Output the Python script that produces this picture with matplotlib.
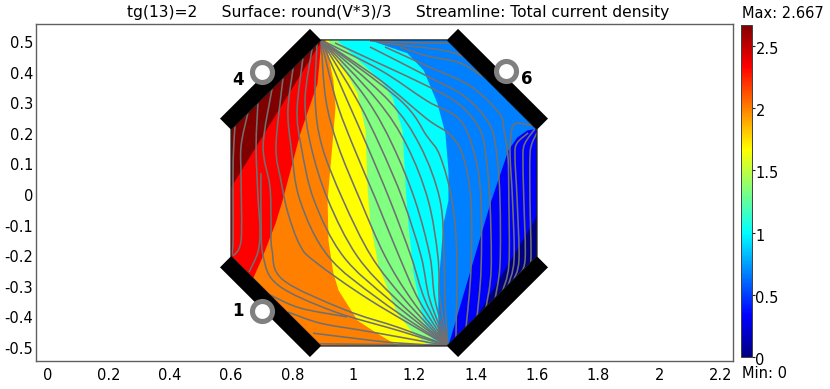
import numpy as np
import matplotlib
matplotlib.use("Agg")
import matplotlib.pyplot as plt
from matplotlib.colors import LinearSegmentedColormap, Normalize
from matplotlib.cm import ScalarMappable
from matplotlib.patches import Polygon, PathPatch
from matplotlib.path import Path
from matplotlib.transforms import ScaledTranslation

plt.rcParams['axes.unicode_minus'] = False
plt.rcParams['font.family'] = 'DejaVu Sans'

TITLE = "tg(13)=2     Surface: round(V*3)/3     Streamline: Total current density"
X_TICKS = [0, 0.2, 0.4, 0.6, 0.8, 1, 1.2, 1.4, 1.6, 1.8, 2, 2.2]
Y_TICKS = [-0.5, -0.4, -0.3, -0.2, -0.1, 0, 0.1, 0.2, 0.3, 0.4, 0.5]
CBAR_TICKS = [0, 0.5, 1, 1.5, 2, 2.5]
V_MAX = 2.667
V_MIN = 0
BAND_COLORS = ['#000080', '#0000ff', '#0080ff', '#00ffff', '#80ff80',
               '#ffff00', '#ff8000', '#ff0000', '#800000']

OCTAGON = [(0.894, 0.5), (1.306, 0.5), (1.6, 0.207), (1.6, -0.207),
           (1.306, -0.5), (0.894, -0.5), (0.6, -0.207), (0.6, 0.207)]
E4 = [(0.894, 0.5), (0.6, 0.207), (0.564, 0.243), (0.858, 0.536)]
E6 = [(1.306, 0.5), (1.6, 0.207), (1.636, 0.243), (1.342, 0.536)]
E1 = [(0.6, -0.207), (0.894, -0.5), (0.858, -0.536), (0.564, -0.243)]
E3 = [(1.306, -0.5), (1.6, -0.207), (1.636, -0.243), (1.342, -0.536)]

RING_X = [0.7, 1.5, 0.7]
RING_Y = [0.395, 0.4, -0.385]
LABELS = [('4', 0.623, 0.369), ('6', 1.567, 0.373), ('1', 0.623, -0.385)]

RED_B = [(0.894, 0.5), (0.891, 0.493), (0.607, 0.033), (0.55, -0.06), (0.55, -0.5)]
ORANGE_B = [(0.894, 0.5), (0.881, 0.359), (0.825, 0.196), (0.793, 0.075), (0.767, -0.023),
            (0.744, -0.098), (0.701, -0.209), (0.672, -0.275), (0.55, -0.40), (0.55, -0.5)]
YELLOW_B = [(0.907, 0.5), (0.933, 0.369), (0.94, 0.281), (0.93, 0.163), (0.914, -0.023),
            (0.917, -0.154), (0.933, -0.261), (0.95, -0.317), (1.012, -0.415), (1.077, -0.458),
            (1.142, -0.497)]
GREEN_B = [(0.917, 0.5), (1.012, 0.327), (1.038, 0.206), (1.045, 0.01), (1.054, -0.098),
           (1.08, -0.235), (1.142, -0.392), (1.195, -0.458), (1.244, -0.497)]
CYAN_B = [(0.946, 0.5), (1.087, 0.369), (1.126, 0.314), (1.159, 0.206), (1.172, -0.023),
          (1.178, -0.098), (1.195, -0.261), (1.227, -0.415), (1.26, -0.48), (1.283, -0.497)]
LIGHT_B = [(1.054, 0.5), (1.175, 0.458), (1.228, 0.402), (1.273, 0.294), (1.299, 0.196),
           (1.309, 0.075), (1.309, -0.023), (1.293, -0.098), (1.276, -0.307), (1.276, -0.458),
           (1.299, -0.497)]
BLUE_B = [(1.6, 0.212), (1.567, 0.206), (1.534, 0.183), (1.505, 0.141), (1.446, -0.033),
          (1.309, -0.497)]
NAVY_B = [(1.6, -0.072), (1.414, -0.382), (1.38, -0.44)]
BOUNDARIES = [RED_B, ORANGE_B, YELLOW_B, GREEN_B, CYAN_B, LIGHT_B, BLUE_B, NAVY_B]
BOUNDARY_COLORS = ['#ff0000', '#ff8000', '#ffff00', '#80ff80', '#00ffff', '#0080ff', '#0000ff', '#000080']

STREAMLINES = [
    [(.613, .219), (.607, .108), (.607, -.023), (.607, -.154), (.603, -.203)],
    [(.655, .261), (.633, .154), (.633, .042), (.633, -.154), (.607, -.206)],
    [(.688, .294), (.682, .154), (.688, -.01), (.695, -.121), (.688, -.193), (.659, -.258)],
    [(.698, .065), (.698, -.065), (.705, -.206), (.754, -.301), (.933, -.386), (1.152, -.451), (1.309, -.5)],
    [(.734, .34), (.705, .154), (.727, .023), (.731, -.088), (.734, -.186), (.77, -.284), (.973, -.382), (1.152, -.441), (1.309, -.5)],
    [(.77, .376), (.747, .154), (.763, .042), (.786, -.065), (.825, -.17), (.875, -.225), (1.054, -.35), (1.309, -.5)],
    [(.803, .408), (.786, .271), (.796, .154), (.825, -.023), (.917, -.206), (1.087, -.35), (1.309, -.5)],
    [(.835, .441), (.816, .271), (.829, .154), (.871, -.023), (.966, -.206), (1.119, -.35), (1.309, -.5)],
    [(.865, .471), (.842, .304), (.861, .154), (.917, -.023), (1.012, -.206), (1.143, -.35), (1.309, -.5)],
    [(.881, .487), (.875, .304), (.897, .154), (.966, -.023), (1.058, -.206), (1.169, -.35), (1.309, -.5)],
    [(.894, .5), (.91, .304), (.95, .154), (1.022, -.023), (1.103, -.206), (1.191, -.35), (1.309, -.5)],
    [(.894, .5), (.943, .304), (.999, .154), (1.074, -.023), (1.149, -.206), (1.214, -.35), (1.309, -.5)],
    [(.894, .5), (.979, .304), (1.045, .154), (1.119, -.023), (1.188, -.206), (1.234, -.35), (1.309, -.5)],
    [(.894, .5), (1.012, .304), (1.087, .154), (1.162, -.023), (1.221, -.206), (1.25, -.35), (1.309, -.5)],
    [(.894, .5), (1.045, .304), (1.129, .154), (1.201, -.023), (1.25, -.206), (1.267, -.35), (1.309, -.5)],
    [(.894, .5), (1.077, .304), (1.175, .154), (1.244, -.023), (1.276, -.206), (1.283, -.35), (1.309, -.5)],
    [(.894, .5), (1.113, .304), (1.218, .154), (1.283, -.023), (1.296, -.206), (1.299, -.35), (1.309, -.5)],
    [(.894, .5), (1.152, .304), (1.24, .186), (1.283, .121), (1.322, -.023), (1.338, -.206), (1.335, -.474)],
    [(.894, .5), (1.087, .369), (1.24, .242), (1.316, .19), (1.358, .121), (1.384, -.023), (1.384, -.252), (1.368, -.441)],
    [(.894, .5), (1.087, .402), (1.24, .301), (1.348, .239), (1.397, .121), (1.417, -.023), (1.417, -.252), (1.404, -.405)],
    [(.94, .49), (1.24, .35), (1.348, .288), (1.414, .206), (1.433, .121), (1.446, -.023), (1.45, -.252), (1.433, -.376)],
    [(1.054, .477), (1.24, .382), (1.365, .314), (1.446, .222), (1.469, .121), (1.479, -.023), (1.479, -.235), (1.463, -.346)],
    [(1.103, .477), (1.24, .415), (1.381, .35), (1.476, .261), (1.492, .206), (1.505, .121), (1.508, -.023), (1.508, -.235), (1.486, -.324)],
    [(1.152, .477), (1.24, .448), (1.348, .425), (1.42, .382)],
    [(1.087, .49), (1.24, .474), (1.316, .461), (1.365, .444)],
    [(1.054, .497), (1.218, .49), (1.313, .49)],
    [(1.593, .219), (1.528, .226), (1.515, .186), (1.512, .121), (1.52, -.023), (1.525, -.219), (1.505, -.304)],
    [(1.571, .196), (1.535, .163), (1.528, .121), (1.535, -.023), (1.541, -.219), (1.522, -.288)],
    [(1.593, .209), (1.561, .163), (1.554, .121), (1.557, -.023), (1.561, -.219), (1.538, -.271)],
    [(1.6, .196), (1.584, .163), (1.577, .121), (1.577, -.023), (1.58, -.219), (1.564, -.245)],
    [(.727, -.333), (.826, -.376), (.979, -.405)],
    [(.786, -.389), (.89, -.425), (1.022, -.448), (1.152, -.471), (1.309, -.5)],
    [(.868, -.458), (1.045, -.48), (1.142, -.49), (1.309, -.5)],
    [(.89, -.493), (1.3, -.497)],
]

W, H = 830, 389
fig = plt.figure(figsize=(W / 100, H / 100), dpi=100)
ax = fig.add_axes([36 / W, (H - 361) / H, 696.5 / W, 337 / H])
ax.set_xlim(-0.0373, 2.2389)
ax.set_ylim(-0.549, 0.552)

clip = Polygon(OCTAGON, closed=True, transform=ax.transData, fc='none', ec='none')
ax.add_patch(clip)
base = Polygon(OCTAGON, closed=True, fc=BAND_COLORS[-1], ec='none', zorder=1)
ax.add_patch(base)
for boundary, color in zip(BOUNDARIES, BOUNDARY_COLORS):
    bx = [p[0] for p in boundary]
    by = [p[1] for p in boundary]
    poly = ax.fill_betweenx(by, bx, 1.7, color=color, lw=0, zorder=2)
    poly.set_clip_path(clip)


def smooth_path(pts):
    pts = np.asarray(pts, dtype=float)
    verts = [pts[0]]
    codes = [Path.MOVETO]
    n = len(pts)
    for i in range(n - 1):
        p0 = pts[max(i - 1, 0)]
        p1 = pts[i]
        p2 = pts[i + 1]
        p3 = pts[min(i + 2, n - 1)]
        verts += [p1 + (p2 - p0) / 6, p2 - (p3 - p1) / 6, p2]
        codes += [Path.CURVE4] * 3
    return Path(verts, codes)


for line in STREAMLINES:
    patch = PathPatch(smooth_path(line), fc='none', ec='#707070', lw=1.15, zorder=3)
    ax.add_patch(patch)
    patch.set_clip_path(clip)

ax.add_patch(Polygon(OCTAGON, closed=True, fc='none', ec='#202020', lw=0.9, zorder=4))
for e in (E4, E6, E1, E3):
    ax.add_patch(Polygon(e, closed=True, fc='black', ec='none', zorder=5))

ax.scatter(RING_X, RING_Y, s=(20 * 0.72) ** 2, facecolor='white', edgecolor='#808080',
           linewidth=3.7, zorder=6)
for label, lx, ly in LABELS:
    ax.text(lx, ly, label, fontsize=12, fontweight='bold', ha='center', va='center',
            color='black', zorder=6)

for s in ax.spines.values():
    s.set_color('#606060')
    s.set_linewidth(1.0)
ax.set_xticks(X_TICKS)
ax.set_xticklabels([f"{v:g}" for v in X_TICKS])
ax.set_yticks(Y_TICKS)
ax.set_yticklabels([f"{v:g}" for v in Y_TICKS])
ax.tick_params(axis='both', length=0, labelsize=10.5, colors='black')
ax.tick_params(axis='x', pad=5)
ax.tick_params(axis='y', pad=2)
down = ScaledTranslation(0, -2 / 100, fig.dpi_scale_trans)
for t in ax.get_yticklabels():
    t.set_transform(t.get_transform() + down)

fig.text(398 / W, (H - 13) / H, TITLE, ha='center', va='center', fontsize=11.2)

cax = fig.add_axes([741 / W, (H - 357) / H, 11 / W, 332 / H])
cmap = LinearSegmentedColormap.from_list('surface', BAND_COLORS, N=256)
cb = fig.colorbar(ScalarMappable(norm=Normalize(V_MIN, V_MAX), cmap=cmap), cax=cax)
cb.set_ticks(CBAR_TICKS)
cb.set_ticklabels([f"{v:g}" for v in CBAR_TICKS])
cb.ax.tick_params(length=2, width=0.8, pad=0.5, labelsize=10.5, color='#202020')
cb.outline.set_edgecolor('#404040')
cb.outline.set_linewidth(0.7)
for t in cb.ax.get_yticklabels():
    t.set_transform(t.get_transform() + down)

fig.text(742 / W, (H - 13) / H, f"Max: {V_MAX}", ha='left', va='center', fontsize=10.5)
fig.text(742 / W, (H - 374) / H, f"Min: {V_MIN}", ha='left', va='center', fontsize=10.5)

fig.savefig("out.png", dpi=100)
